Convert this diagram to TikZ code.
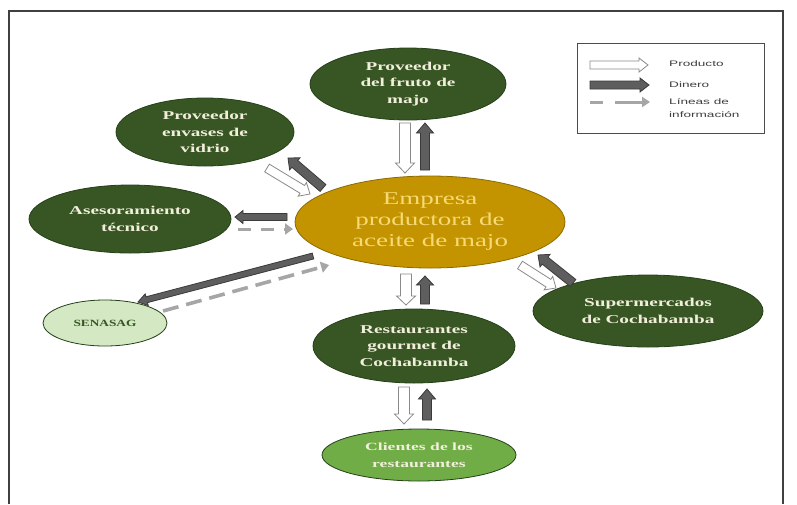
\documentclass[tikz,border=0pt]{standalone}
\usepackage{fontspec}
\usetikzlibrary{calc,arrows.meta,shapes.geometric}
\newfontfamily\greenfont[FakeStretch=1.6]{Liberation Serif}
\newfontfamily\empfont[FakeStretch=1.5]{Liberation Serif}
\newfontfamily\smallfont[FakeStretch=1.4]{Liberation Serif}
\newfontfamily\legfont[FakeStretch=1.7]{Liberation Sans}
\definecolor{dkgreen}{HTML}{375623}
\definecolor{dkgreenline}{HTML}{26401A}
\definecolor{midgreen}{HTML}{70AD47}
\definecolor{ltgreen}{HTML}{D3E8C3}
\definecolor{gold}{HTML}{C39400}
\definecolor{goldline}{HTML}{8C6A00}
\definecolor{goldtext}{HTML}{F7DA74}
\definecolor{creamtext}{HTML}{F2EEDC}
\definecolor{darkarrow}{HTML}{5E5E5E}
\definecolor{darkarrowline}{HTML}{3A3A3A}
\definecolor{hollowline}{HTML}{8A8A8A}
\definecolor{dashgray}{HTML}{A6A6A6}
\newcommand\barrow[6]{%
  \coordinate (ba-n) at ($(#3)!#6!(#2)$);
  \path[#1] ($(#2)!#4!90:(#3)$) -- ($(ba-n)!#4!-90:(#2)$) -- ($(ba-n)!#5!-90:(#2)$) -- (#3) -- ($(ba-n)!#5!90:(#2)$) -- ($(ba-n)!#4!90:(#2)$) -- ($(#2)!#4!-90:(#3)$) -- cycle;
}
\tikzset{
  gnode/.style={ellipse, draw=dkgreenline, line width=0.8pt, fill=dkgreen, inner sep=0pt,
    text=creamtext, align=center, font=\greenfont\bfseries\fontsize{12}{16.5}\selectfont},
  hollowarrow/.style={draw=hollowline, fill=white, line width=0.8pt, line join=miter},
  darkarrowst/.style={draw=darkarrowline, fill=darkarrow, line width=0.8pt, line join=miter},
  dasharrow/.style={draw=dashgray, line width=3.6pt, dash pattern=on 16pt off 8pt,
    -{Triangle[length=8pt,width=11pt]}},
  legtext/.style={anchor=west, inner sep=0pt, align=left, text=black!75,
    font=\legfont\fontsize{8}{13}\selectfont}
}
\begin{document}
\begin{tikzpicture}[x=1pt,y=-1pt]
\useasboundingbox (0,0) rectangle (797,504);
\fill[white] (0,0) rectangle (797,504);
% frame
\draw[line width=1.8pt, black!75] (9,504) -- (9,11) -- (783,11) -- (783,504);

% nodes
\node[gnode, minimum width=196, minimum height=72] (fruto) at (408,84) {Proveedor\\del fruto de\\majo};
\node[gnode, minimum width=178, minimum height=68] (envases) at (205,132) {Proveedor\\envases de\\vidrio};
\node[gnode, minimum width=202, minimum height=68] (ases) at (130,219) {Asesoramiento\\técnico};
\node[ellipse, draw=goldline, line width=0.8pt, fill=gold, inner sep=0pt,
  minimum width=270, minimum height=92, text=goldtext, align=center,
  font=\empfont\fontsize{18}{21}\selectfont] (emp) at (430,222) {Empresa\\productora de\\aceite de majo};
\node[ellipse, draw=dkgreenline, line width=0.8pt, fill=ltgreen, inner sep=0pt,
  minimum width=124, minimum height=46, text=dkgreen,
  font=\smallfont\bfseries\fontsize{9.5}{12}\selectfont] (sena) at (105,323) {SENASAG};
\node[gnode, minimum width=202, minimum height=74] (rest) at (414,346) {Restaurantes\\gourmet de\\Cochabamba};
\node[gnode, minimum width=230, minimum height=72] (super) at (648,311) {Supermercados\\de Cochabamba};
\node[ellipse, draw=dkgreenline, line width=0.8pt, fill=midgreen, inner sep=0pt,
  minimum width=194, minimum height=52, text=creamtext, align=center,
  font=\greenfont\bfseries\fontsize{11}{17}\selectfont] (cli) at (419,455) {Clientes de los\\restaurantes};

% arrow end points
\coordinate (f1s) at (405,123); \coordinate (f1e) at (405,173);
\coordinate (f2s) at (425,170); \coordinate (f2e) at (425,123);
\coordinate (e1s) at (267,168); \coordinate (e1e) at (310,194);
\coordinate (e2s) at (323,188); \coordinate (e2e) at (288,158);
\coordinate (a1s) at (287,217); \coordinate (a1e) at (235,217);
\coordinate (a2s) at (238,229); \coordinate (a2e) at (293,229);
\coordinate (s1s) at (313,256); \coordinate (s1e) at (138,302);
\coordinate (s2s) at (163,311); \coordinate (s2e) at (329,265);
\coordinate (r1s) at (406,274); \coordinate (r1e) at (406,305);
\coordinate (r2s) at (425,304); \coordinate (r2e) at (425,276);
\coordinate (c1s) at (404,387); \coordinate (c1e) at (404,424);
\coordinate (c2s) at (427,420); \coordinate (c2e) at (427,389);
\coordinate (m1s) at (520,265); \coordinate (m1e) at (556,288);
\coordinate (m2s) at (573,283); \coordinate (m2e) at (538,255);

% block arrows
\barrow{hollowarrow}{f1s}{f1e}{5.5pt}{9.5pt}{10pt}
\barrow{darkarrowst}{f2s}{f2e}{4.5pt}{8.5pt}{10pt}
\barrow{hollowarrow}{e1s}{e1e}{4.5pt}{8pt}{9pt}
\barrow{darkarrowst}{e2s}{e2e}{4.5pt}{8pt}{9pt}
\barrow{darkarrowst}{a1s}{a1e}{3.5pt}{6.5pt}{8pt}
\draw[dasharrow, line width=3pt, dash pattern=on 13pt off 10pt] (a2s) -- (a2e);
\barrow{darkarrowst}{s1s}{s1e}{3pt}{6pt}{9pt}
\draw[dasharrow] (s2s) -- (s2e);
\barrow{hollowarrow}{r1s}{r1e}{5.5pt}{9.5pt}{9pt}
\barrow{darkarrowst}{r2s}{r2e}{4.5pt}{8.5pt}{9pt}
\barrow{hollowarrow}{c1s}{c1e}{5.5pt}{9.5pt}{10pt}
\barrow{darkarrowst}{c2s}{c2e}{4.5pt}{8.5pt}{10pt}
\barrow{hollowarrow}{m1s}{m1e}{4.5pt}{8pt}{9pt}
\barrow{darkarrowst}{m2s}{m2e}{4.5pt}{8pt}{9pt}

% legend
\node[draw=black!70, line width=1pt, minimum width=187, minimum height=90, inner sep=0pt] (legend) at (670.5,88) {};
\coordinate (l1s) at (590,65); \coordinate (l1e) at (648,65);
\coordinate (l2s) at (590,85); \coordinate (l2e) at (649,85);
\coordinate (l3s) at (590,102); \coordinate (l3m) at (603,102);
\coordinate (l4s) at (615,102); \coordinate (l4e) at (650,102);
\barrow{hollowarrow}{l1s}{l1e}{4pt}{7pt}{9pt}
\barrow{darkarrowst}{l2s}{l2e}{4pt}{7pt}{9pt}
\draw[draw=dashgray, line width=3pt] (l3s) -- (l3m);
\draw[draw=dashgray, line width=3pt, -{Triangle[length=8pt,width=10pt]}] (l4s) -- (l4e);
\node[legtext] (lp) at (669,64) {Producto};
\node[legtext] (ld) at (669,85) {Dinero};
\node[legtext] (li) at (669,108.5) {Líneas de\\información};
\end{tikzpicture}
\end{document}
